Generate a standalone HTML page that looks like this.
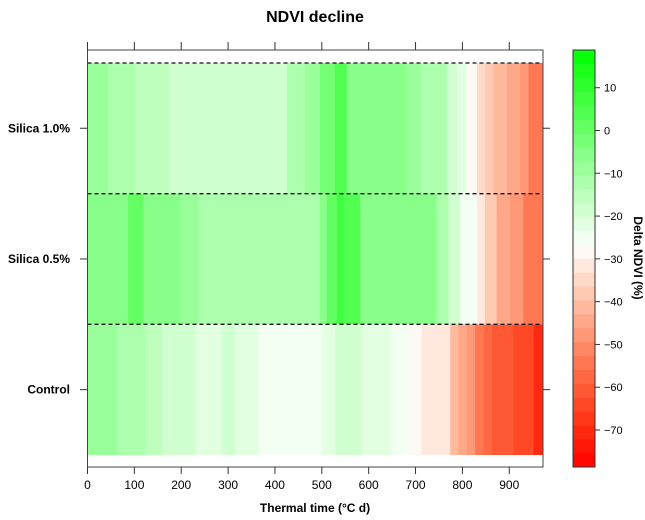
<!DOCTYPE html>
<html><head><meta charset="utf-8"><style>
html,body{margin:0;padding:0;background:#fff;}
svg{display:block;font-family:"Liberation Sans",Arial,sans-serif;}
</style></head><body>
<svg id="chart" width="645" height="520"></svg>
<script>
const rowNames = ["Control","Silica 0.5%","Silica 1.0%"];
const controlStarts = [0,63,123,159,194,230,287,315,365,415,475,500,529,585,617,649,685,713,774,791,809,827,845,863,909,952];
const controlValues = [-8,-12,-15,-18,-19.5,-22,-20,-22,-24,-26,-24,-22,-20,-22,-23,-26,-29.6,-33,-40,-44,-49,-54,-56,-60,-65,-71];
const silica05Starts = [0,87,119,159,198,237,496,511,532,546,582,671,745,770,795,831,848,873,902,930];
const silica05Values = [-6,2,-4,-7,-10,-13,-6,1,8,3,-5,-7,-12,-17,-24,-33,-39,-44,-48,-54];
const silica10Starts = [0,45,102,173,262,344,426,465,496,528,553,681,713,767,788,809,831,849,866,895,923,941];
const silica10Values = [-8,-12,-14,-17,-20,-17,-13,-8,-3,4,-6,-9,-13,-18,-23,-27,-34,-39,-42,-45,-48,-53];
const xEnd = 972;
const xTicks = [0,100,200,300,400,500,600,700,800,900];
const cbTicks = [10,0,-10,-20,-30,-40,-50,-60,-70];
const cbMin = -78.6, cbMax = 18.8, cbWhite = -27;

const svg = document.getElementById('chart');
const NS = 'http://www.w3.org/2000/svg';
function mk(tag, attrs, parent){const e=document.createElementNS(NS,tag);for(const k in attrs)e.setAttribute(k,attrs[k]);(parent||svg).appendChild(e);return e;}
const X0=87.5, X1=543, Y0=50, Y1=467;
const xs = v => X0 + v*(X1-X0)/xEnd;
const rowTop = i => 455 - (i+1)*130.7;
const cy = v => 87.7 + (10 - v)*42.79/10;
function color(v){
  const b = Math.max(0,Math.min(29,Math.floor((v-cbMin)/(cbMax-cbMin)*30)));
  const q = cbMin + (b+0.5)*(cbMax-cbMin)/30;
  let r,g,bl;
  if(q>=cbWhite){const t=Math.min(1,(q-cbWhite)/(cbMax-cbWhite));r=255*(1-t);g=255;bl=255*(1-t);}
  else{const t=Math.min(1,(cbWhite-q)/(cbWhite-cbMin));r=255;g=255*(1-t);bl=255*Math.pow(1-t,1.5);}
  return `rgb(${Math.round(r)},${Math.round(g)},${Math.round(bl)})`;
}
mk('text',{x:315,y:22,'text-anchor':'middle','font-size':16,'font-weight':'bold',}).textContent='NDVI decline';
const rows=[[controlStarts,controlValues],[silica05Starts,silica05Values],[silica10Starts,silica10Values]];
rows.forEach((rw,i)=>{
  const [s,v]=rw; const g=mk('g',{});
  
  
  for(let k=0;k<s.length;k++){
    const x0=xs(s[k]), x1=xs(k+1<s.length?s[k+1]:xEnd);
    const r=mk('rect',{x:x0,y:rowTop(i),width:x1-x0+0.5,height:130.7,fill:color(v[k])},g);
    
    
  }
  const yc=rowTop(i)+65.35;
  mk('line',{x1:80,x2:X0,y1:yc,y2:yc,stroke:'#333'});
  mk('line',{x1:X1,x2:550,y1:yc,y2:yc,stroke:'#333'});
  const t=mk('text',{x:70,y:yc+4,'text-anchor':'end','font-size':12,'font-weight':'bold'});
  
  
  t.textContent=rowNames[i];
});
[63,193.7,324.3].forEach(y=>mk('line',{x1:X0,x2:X1,y1:y,y2:y,stroke:'#111','stroke-dasharray':'4,3','stroke-width':1.3}));
mk('rect',{x:X0,y:Y0,width:X1-X0,height:Y1-Y0,fill:'none',stroke:'#444',});
xTicks.forEach(v=>{
  const x=xs(v);
  mk('line',{x1:x,x2:x,y1:Y1,y2:474,stroke:'#333'});
  mk('line',{x1:x,x2:x,y1:42,y2:Y0,stroke:'#333'});
  const t=mk('text',{x:x,y:489,'text-anchor':'middle','font-size':12});
  
  
  t.textContent=v;
});
mk('text',{x:315,y:512,'text-anchor':'middle','font-size':12,'font-weight':'bold',}).textContent='Thermal time (°C d)';
const cbg=mk('g',{});
for(let b=0;b<30;b++){
  const lo=cbMin+b*(cbMax-cbMin)/30, hi=lo+(cbMax-cbMin)/30;
  mk('rect',{x:573,y:cy(hi),width:22,height:cy(lo)-cy(hi)+0.3,fill:color(lo+0.01)},cbg);
}
mk('rect',{x:573,y:Y0,width:22,height:Y1-Y0,fill:'none',stroke:'#333'},cbg);
cbTicks.forEach(v=>{
  const y=cy(v);
  mk('line',{x1:595,x2:600,y1:y,y2:y,stroke:'#333'},cbg);
  const t=mk('text',{x:604,y:y+4,'font-size':11},cbg);
  
  
  t.textContent=v<0?'\u2212'+(-v):v;
});
mk('text',{x:0,y:0,transform:'translate(634,258) rotate(90)','text-anchor':'middle','font-size':12,'font-weight':'bold',}).textContent='Delta NDVI (%)';
</script>
</body></html>
